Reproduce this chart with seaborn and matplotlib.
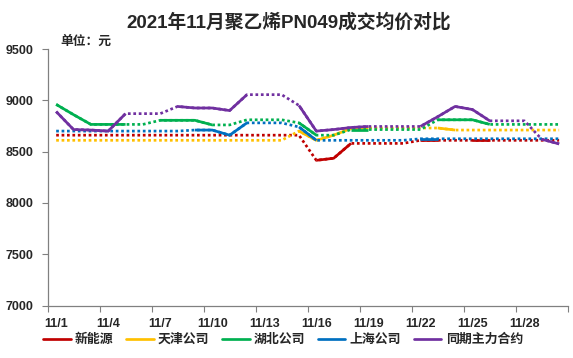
import numpy as np
import pandas as pd
import matplotlib
matplotlib.use('Agg')
import matplotlib.pyplot as plt
import seaborn as sns
from matplotlib.lines import Line2D

# ─────────────────────────────────────────────
# Data
# ─────────────────────────────────────────────
days = ['11/1', '11/2', '11/3', '11/4', '11/5', '11/6', '11/7', '11/8', '11/9', '11/10',
        '11/11', '11/12', '11/13', '11/14', '11/15', '11/16', '11/17', '11/18', '11/19', '11/20',
        '11/21', '11/22', '11/23', '11/24', '11/25', '11/26', '11/27', '11/28', '11/29', '11/30']

series_names = ['新能源', '天津公司', '湖北公司', '上海公司', '同期主力合约']

# price per day (days without a deal carry a held value)
xinnengyuan = [8660, 8660, 8660, 8660, 8660, 8660, 8660, 8660, 8660, 8660,
               8660, 8660, 8660, 8660, 8660, 8415, 8435, 8580, 8580, 8580,
               8580, 8610, 8610, 8610, 8610, 8610, 8610, 8610, 8610, 8610]
tianjin = [8610, 8610, 8610, 8610, 8610, 8610, 8610, 8610, 8610, 8610,
           8610, 8610, 8610, 8610, 8700, 8610, 8660, 8725, 8730, 8730,
           8730, 8730, 8730, 8710, 8710, 8710, 8710, 8710, 8710, 8710]
hubei = [8960, 8860, 8765, 8765, 8765, 8765, 8805, 8805, 8805, 8760,
         8760, 8810, 8810, 8810, 8780, 8660, 8660, 8715, 8715, 8715,
         8715, 8715, 8810, 8810, 8810, 8765, 8765, 8765, 8765, 8765]
shanghai = [8700, 8700, 8700, 8700, 8700, 8700, 8700, 8700, 8710, 8710,
            8660, 8780, 8780, 8780, 8740, 8610, 8610, 8610, 8610, 8610,
            8610, 8625, 8625, 8625, 8625, 8625, 8625, 8625, 8625, 8625]
zhuli = [8890, 8715, 8710, 8700, 8870, 8870, 8870, 8940, 8925, 8925,
         8900, 9055, 9055, 9055, 8950, 8700, 8715, 8735, 8745, 8745,
         8745, 8745, 8840, 8940, 8910, 8800, 8800, 8800, 8620, 8575]

# 1 = a deal on that day, 0 = value held over
xinnengyuan_deal = [0, 0, 0, 0, 0, 0, 0, 0, 0, 0, 0, 0, 0, 0, 0,
                    1, 1, 1, 0, 0, 0, 1, 1, 0, 1, 1, 0, 0, 0, 0]
tianjin_deal = [0, 0, 0, 0, 0, 0, 0, 0, 0, 0, 0, 0, 0, 0, 1,
                1, 1, 1, 1, 0, 0, 0, 1, 1, 0, 0, 0, 0, 0, 0]
hubei_deal = [1, 1, 1, 1, 1, 0, 1, 1, 1, 1, 0, 1, 0, 0, 1,
              1, 0, 1, 1, 0, 0, 0, 1, 1, 1, 1, 0, 0, 0, 0]
shanghai_deal = [0, 0, 0, 0, 0, 0, 0, 0, 1, 1, 1, 1, 0, 0, 1,
                 1, 0, 0, 0, 0, 0, 1, 1, 0, 0, 0, 0, 0, 0, 0]
zhuli_deal = [1, 1, 1, 1, 1, 0, 0, 1, 1, 1, 1, 1, 0, 0, 1,
              1, 1, 1, 1, 0, 0, 1, 1, 1, 1, 1, 0, 0, 1, 1]

colors = ['#C00000', '#FFC000', '#00B050', '#0070C0', '#7030A0']
y_ticks = [7000, 7500, 8000, 8500, 9000, 9500]

all_prices = [xinnengyuan, tianjin, hubei, shanghai, zhuli]
all_deals = [xinnengyuan_deal, tianjin_deal, hubei_deal, shanghai_deal, zhuli_deal]

# ─────────────────────────────────────────────
# Style
# ─────────────────────────────────────────────
sns.set_theme(style='white')
plt.rcParams['font.family'] = ['Liberation Sans', 'Noto Sans CJK SC', 'DejaVu Sans']
plt.rcParams['font.weight'] = 'bold'

W, H = 573, 358
fig = plt.figure(figsize=(W / 100, H / 100), dpi=100)
ax = fig.add_axes([47.5 / W, 1 - 305.5 / H, (567.8 - 47.5) / W, (305.5 - 49) / H])

LW = 1.95
for name, prices, deals, color in zip(series_names, all_prices, all_deals, colors):
    df = pd.DataFrame({'x': np.arange(len(days)), 'price': prices, 'deal': deals})

    # dotted line through every day
    sns.lineplot(data=df, x='x', y='price', color=color, lw=LW,
                 linestyle=(0, (1, 1)), ax=ax, legend=False)

    # solid line through consecutive deal days
    run = (df['deal'].diff().fillna(df['deal']) == 1).cumsum()
    solid = df[df['deal'] == 1].assign(run=run[df['deal'] == 1])
    sns.lineplot(data=solid, x='x', y='price', units='run', estimator=None,
                 color=color, lw=LW, solid_capstyle='butt', ax=ax, legend=False)

# ─────────────────────────────────────────────
# Axes
# ─────────────────────────────────────────────
ax.set_xlim(-0.5, len(days) - 0.5)
ax.set_ylim(7000, 9500)
ax.set_xlabel('')
ax.set_ylabel('')

ax.set_yticks(y_ticks)
ax.set_yticklabels([str(v) for v in y_ticks], fontsize=9, fontweight='bold')
ax.tick_params(axis='y', length=4, width=0.8, color='#808080', pad=6, left=True)

ax.set_xticks(np.arange(-0.5, len(days), 3))
ax.set_xticklabels([])
ax.set_xticks(np.arange(0, len(days), 3), minor=True)
ax.set_xticklabels(days[::3], minor=True, fontsize=9, fontweight='bold')
ax.tick_params(axis='x', which='major', length=4, width=0.8, color='#808080', bottom=True)
ax.tick_params(axis='x', which='minor', length=0, pad=9)

for side in ['top', 'right']:
    ax.spines[side].set_visible(False)
for side in ['left', 'bottom']:
    ax.spines[side].set_color('#808080')
    ax.spines[side].set_linewidth(0.9)
ax.grid(False)

# ─────────────────────────────────────────────
# Texts and legend
# ─────────────────────────────────────────────
fig.text(0.503, 1 - 22.5 / H, '2021年11月聚乙烯PN049成交均价对比',
         ha='center', va='center', fontsize=13.5, fontweight='bold')
fig.text(60 / W, 1 - 41.5 / H, '单位：元', ha='left', va='center',
         fontsize=9.2, fontweight='bold')

handles = [Line2D([0], [0], color=c, lw=LW) for c in colors]
fig.legend(handles, series_names, loc='center', bbox_to_anchor=(283 / W, 1 - 340 / H),
           ncol=5, frameon=False, handlelength=2.14, handletextpad=0.34,
           columnspacing=0.96, prop={'weight': 'bold', 'size': 9.3})

fig.savefig('out.png', dpi=100)
plt.close(fig)
